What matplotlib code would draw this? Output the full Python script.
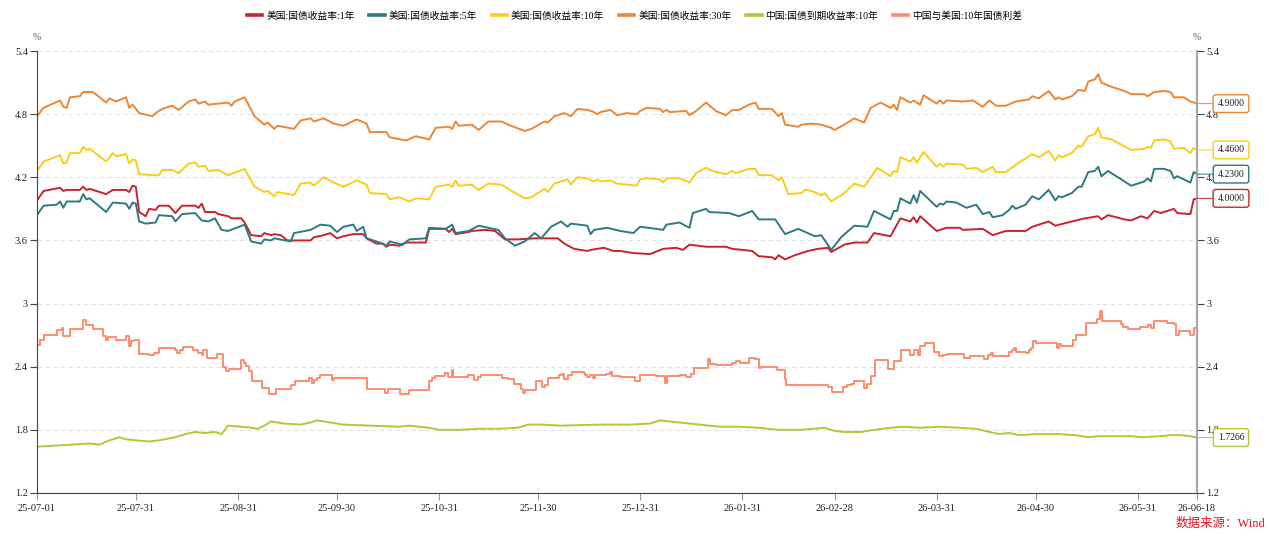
import numpy as np
import pandas as pd
import matplotlib
matplotlib.use('Agg')
import matplotlib.pyplot as plt
from matplotlib.lines import Line2D

plt.rcParams['font.family'] = ['Liberation Serif', 'Noto Sans CJK SC']

# x = calendar days after 2025-07-01, y = yield in %
start = pd.Timestamp('2025-07-01')

us1 = [(0,3.98),(2,4.07),(7,4.10),(8,4.07),(9,4.08),(13,4.08),(14,4.11),(15,4.08),(16,4.09),(21,4.04),(23,4.08),(27,4.08),
       (28,4.06),(29,4.12),(30,4.11),(31,3.87),(33,3.83),(34,3.90),(36,3.89),(37,3.93),(40,3.93),(42,3.86),(44,3.93),(48,3.93),
       (49,3.91),(50,3.95),(51,3.87),(54,3.87),(55,3.85),(58,3.83),(59,3.81),(62,3.81),(63,3.77),(65,3.65),(68,3.64),(69,3.67),
       (71,3.65),(72,3.66),(74,3.65),(76,3.60),(80,3.60),(83,3.60),(84,3.63),(87,3.65),(89,3.67),(91,3.62),(93,3.64),(96,3.66),
       (99,3.66),(100,3.62),(103,3.57),(105,3.57),(106,3.54),(107,3.56),(110,3.55),(112,3.58),(118,3.58),(119,3.71),(124,3.71),
       (125,3.68),(126,3.71),(127,3.66),(131,3.68),(132,3.69),(136,3.70),(139,3.69),(142,3.61),(146,3.61),(151,3.62),(158,3.62),
       (160,3.57),(163,3.52),(167,3.50),(168,3.51),(172,3.53),(175,3.50),(177,3.50),(181,3.48),(186,3.47),(190,3.52),(194,3.53),
       (196,3.51),(198,3.56),(203,3.54),(209,3.54),(211,3.52),(217,3.50),(219,3.45),(223,3.44),(224,3.42),(225,3.46),(227,3.42),
       (230,3.46),(234,3.50),(237,3.52),(240,3.53),(241,3.49),(245,3.56),(248,3.58),(252,3.58),(254,3.67),(259,3.64),(262,3.81),
       (265,3.78),(266,3.82),(267,3.77),(268,3.83),(273,3.69),(276,3.72),(280,3.72),(281,3.70),(287,3.71),(290,3.65),(294,3.69),
       (300,3.69),(302,3.73),(307,3.78),(309,3.74),(314,3.78),(318,3.81),(322,3.83),(323,3.80),(325,3.84),(330,3.80),(332,3.79),
       (335,3.83),(337,3.81),(339,3.88),(341,3.86),(345,3.90),(346,3.86),(350,3.85),(351,3.99),(352,4.00)]

us5 = [(0,3.84),(2,3.93),(6,3.94),(7,3.97),(8,3.91),(9,3.97),(13,3.97),(14,4.04),(15,3.99),(16,4.00),(21,3.87),(23,3.96),
       (27,3.95),(28,3.90),(29,3.96),(30,3.95),(31,3.78),(33,3.76),(36,3.77),(37,3.84),(41,3.83),(42,3.78),(44,3.85),(48,3.86),
       (50,3.79),(52,3.78),(54,3.81),(56,3.70),(58,3.69),(63,3.75),(65,3.59),(68,3.57),(69,3.61),(71,3.60),(72,3.62),(77,3.59),
       (78,3.67),(83,3.70),(86,3.75),(89,3.74),(91,3.68),(93,3.73),(96,3.75),(97,3.69),(99,3.73),(100,3.62),(104,3.58),(106,3.55),
       (107,3.59),(111,3.56),(113,3.61),(118,3.62),(119,3.72),(124,3.71),(126,3.75),(127,3.67),(131,3.69),(134,3.74),(140,3.70),
       (142,3.62),(145,3.55),(148,3.59),(151,3.67),(153,3.62),(156,3.73),(159,3.78),(161,3.73),(162,3.76),(167,3.74),(168,3.66),
       (169,3.70),(173,3.72),(177,3.69),(181,3.67),(183,3.73),(188,3.71),(190,3.70),(191,3.75),(195,3.77),(198,3.72),(199,3.86),
       (203,3.90),(204,3.87),(210,3.86),(213,3.83),(217,3.88),(219,3.80),(224,3.80),(227,3.66),(231,3.71),(236,3.64),(238,3.65),
       (241,3.51),(244,3.63),(248,3.74),(252,3.73),(254,3.88),(259,3.80),(260,3.88),(261,3.88),(262,4.00),(265,3.95),(266,4.03),
       (267,3.96),(268,4.07),(273,3.92),(274,3.95),(275,3.94),(276,3.97),(279,3.96),(282,3.91),(285,3.94),(287,3.85),(289,3.87),
       (290,3.82),(293,3.84),(295,3.89),(296,3.93),(297,3.90),(300,3.94),(302,4.02),(304,3.99),(307,4.08),(309,3.98),(310,4.02),
       (311,4.01),(314,4.05),(316,4.11),(317,4.11),(319,4.25),(321,4.26),(322,4.30),(323,4.21),(325,4.26),(332,4.12),(336,4.16),
       (337,4.19),(338,4.16),(339,4.28),(342,4.28),(344,4.26),(345,4.19),(346,4.21),(350,4.15),(351,4.25),(352,4.23)]

us10 = [(0,4.26),(2,4.35),(7,4.41),(8,4.33),(9,4.34),(10,4.43),(13,4.43),(14,4.49),(15,4.46),(16,4.47),(21,4.35),(23,4.43),
        (24,4.40),(27,4.42),(28,4.33),(29,4.37),(30,4.36),(31,4.23),(35,4.22),(37,4.22),(38,4.27),(41,4.27),(43,4.24),(46,4.33),
        (48,4.34),(49,4.30),(51,4.31),(52,4.26),(55,4.27),(58,4.22),(63,4.28),(66,4.11),(69,4.06),(70,4.07),(72,4.02),(73,4.06),
        (78,4.03),(80,4.14),(83,4.15),(84,4.12),(87,4.20),(90,4.15),(93,4.11),(97,4.17),(100,4.13),(101,4.05),(106,4.04),(107,3.99),
        (110,4.01),(113,3.97),(115,4.00),(119,3.99),(121,4.11),(125,4.13),(126,4.11),(127,4.17),(128,4.12),(132,4.13),(134,4.08),
        (137,4.14),(141,4.13),(144,4.07),(148,4.00),(150,4.01),(154,4.09),(155,4.06),(157,4.14),(161,4.18),(162,4.13),(164,4.20),
        (167,4.19),(169,4.16),(170,4.18),(171,4.16),(174,4.17),(176,4.14),(182,4.12),(183,4.18),(185,4.19),(189,4.18),(190,4.15),
        (191,4.19),(195,4.19),(198,4.15),(200,4.24),(203,4.29),(205,4.26),(209,4.23),(211,4.26),(212,4.24),(216,4.28),(218,4.28),
        (219,4.22),(223,4.22),(225,4.17),(226,4.20),(228,4.04),(232,4.05),(233,4.08),(235,4.07),(238,4.03),(239,4.05),(241,3.97),
        (245,4.05),(248,4.14),(251,4.11),(255,4.29),(259,4.21),(260,4.26),(261,4.25),(262,4.39),(265,4.35),(266,4.39),(267,4.34),
        (269,4.44),(273,4.30),(274,4.33),(275,4.30),(276,4.33),(281,4.32),(282,4.28),(285,4.29),(287,4.25),(290,4.30),(291,4.25),
        (294,4.25),(297,4.32),(302,4.42),(304,4.39),(307,4.45),(309,4.36),(310,4.41),(311,4.39),(314,4.43),(316,4.50),(317,4.49),
        (319,4.59),(321,4.61),(322,4.67),(323,4.58),(326,4.56),(332,4.46),(336,4.47),(337,4.49),(338,4.48),(339,4.55),(342,4.56),
        (344,4.54),(345,4.47),(348,4.48),(350,4.43),(351,4.48),(352,4.46)]

us30 = [(0,4.78),(2,4.86),(7,4.93),(8,4.87),(9,4.86),(10,4.96),(13,4.97),(14,5.01),(17,5.01),(21,4.91),(22,4.95),(24,4.92),
        (27,4.96),(28,4.86),(29,4.89),(31,4.81),(35,4.78),(36,4.81),(38,4.85),(41,4.88),(43,4.84),(46,4.92),(48,4.94),(49,4.90),
        (51,4.92),(52,4.89),(58,4.91),(59,4.88),(60,4.92),(63,4.96),(66,4.78),(69,4.70),(70,4.72),(72,4.66),(73,4.69),(78,4.66),
        (80,4.74),(83,4.76),(84,4.73),(87,4.76),(90,4.71),(93,4.69),(97,4.75),(100,4.71),(101,4.63),(106,4.63),(107,4.58),
        (112,4.55),(115,4.59),(119,4.56),(121,4.67),(125,4.68),(126,4.66),(127,4.73),(128,4.69),(132,4.70),(134,4.65),(137,4.73),
        (141,4.73),(143,4.70),(148,4.64),(150,4.66),(154,4.73),(155,4.72),(157,4.78),(160,4.81),(162,4.78),(164,4.85),(167,4.84),
        (169,4.82),(170,4.80),(171,4.82),(174,4.84),(176,4.79),(179,4.81),(182,4.80),(183,4.83),(185,4.86),(189,4.85),(190,4.82),
        (191,4.84),(192,4.82),(197,4.83),(198,4.79),(200,4.83),(203,4.91),(206,4.83),(209,4.79),(211,4.84),(213,4.84),(216,4.89),
        (218,4.91),(219,4.85),(223,4.85),(225,4.78),(226,4.81),(227,4.70),(231,4.68),(232,4.70),(235,4.71),(238,4.70),(241,4.67),
        (242,4.65),(245,4.70),(248,4.76),(251,4.72),(253,4.86),(256,4.91),(259,4.86),(260,4.89),(261,4.84),(262,4.96),(265,4.91),
        (266,4.93),(268,4.89),(269,4.98),(273,4.90),(274,4.93),(275,4.90),(276,4.93),(281,4.92),(284,4.93),(287,4.87),(289,4.93),
        (291,4.88),(294,4.88),(297,4.92),(301,4.94),(302,4.97),(304,4.95),(307,5.02),(309,4.94),(310,4.96),(311,4.94),(314,4.97),
        (316,5.03),(318,5.02),(319,5.11),(321,5.13),(322,5.18),(323,5.10),(326,5.06),(330,5.02),(332,4.99),(336,4.99),(337,4.97),
        (338,4.99),(339,5.01),(342,5.02),(344,5.01),(345,4.96),(348,4.96),(350,4.92),(352,4.90)]

cn10 = [(0,1.64),(16,1.67),(19,1.66),(22,1.70),(25,1.73),(27,1.71),(30,1.70),(34,1.69),(37,1.70),(42,1.73),(45,1.76),(48,1.78),
        (51,1.77),(54,1.78),(56,1.76),(58,1.84),(62,1.83),(65,1.82),(67,1.81),(69,1.84),(71,1.88),(75,1.86),(80,1.85),(83,1.87),
        (85,1.89),(89,1.87),(93,1.85),(101,1.84),(110,1.83),(113,1.84),(119,1.82),(122,1.80),(128,1.80),(134,1.81),(140,1.81),
        (146,1.82),(149,1.85),(153,1.85),(159,1.84),(171,1.85),(180,1.85),(186,1.86),(189,1.89),(195,1.87),(201,1.85),(207,1.83),
        (213,1.83),(219,1.82),(225,1.80),(231,1.80),(236,1.81),(239,1.82),(242,1.79),(245,1.78),(250,1.78),(254,1.80),(259,1.82),
        (263,1.83),(268,1.82),(274,1.83),(280,1.82),(285,1.81),(289,1.78),(292,1.76),(295,1.77),(298,1.75),(303,1.76),(310,1.76),
        (315,1.75),(319,1.73),(322,1.74),(332,1.74),(335,1.73),(341,1.74),(344,1.75),(347,1.75),(350,1.74),(352,1.7266)]

spread = [(0,2.61),(1,2.65),(2,2.70),(6,2.75),(7.6,2.77),(8,2.69),(10,2.76),(14,2.84),(15,2.80),(17,2.76),(20,2.69),(21,2.65),
          (21.5,2.68),(24,2.65),(27,2.69),(28,2.60),(28.5,2.64),(29.5,2.65),(31,2.52),(34,2.51),(35.5,2.53),(37,2.58),(42,2.56),
          (42.6,2.53),(43.4,2.56),(44.3,2.59),(47.3,2.56),(49,2.53),(50,2.51),(50.4,2.56),(51.6,2.48),(54.6,2.52),(56.4,2.40),
          (57.5,2.36),(58.2,2.38),(62,2.46),(62.8,2.44),(63.4,2.41),(64.3,2.36),(65.2,2.26),(68.4,2.20),(70.4,2.14),(72.4,2.19),
          (77.2,2.23),(78.2,2.26),(82.5,2.29),(83.3,2.25),(84,2.27),(85,2.29),(85.9,2.32),(89.4,2.27),(90.1,2.29),(100,2.19),
          (105.6,2.15),(106.5,2.19),(110,2.14),(113,2.18),(119,2.26),(120,2.29),(120.8,2.31),(123.8,2.34),(124.7,2.30),(125.8,2.37),
          (126.2,2.30),(130.7,2.32),(132.6,2.27),(133.8,2.30),(134.6,2.32),(141,2.29),(143,2.28),(144.7,2.24),(146.8,2.19),
          (147.5,2.15),(148,2.18),(151.5,2.26),(153.2,2.21),(154,2.23),(155,2.29),(158.4,2.32),(159.3,2.33),(160,2.28),(161,2.32),
          (162.4,2.35),(166,2.34),(166.2,2.32),(167,2.30),(167.8,2.32),(168.7,2.29),(169.3,2.32),(172.8,2.33),(173.8,2.35),
          (174.5,2.31),(176.9,2.30),(181.4,2.26),(183.1,2.32),(187.8,2.31),(190.5,2.25),(191.2,2.31),(195,2.32),(197,2.30),
          (198.4,2.33),(199.3,2.39),(203.6,2.47),(204.3,2.43),(206,2.42),(211,2.44),(212,2.45),(213.3,2.44),(216.2,2.48),(218,2.47),
          (219,2.39),(219.7,2.40),(224.7,2.37),(227,2.28),(227.3,2.23),(240,2.21),(241.2,2.16),(244.6,2.21),(245.7,2.23),(247,2.24),
          (248,2.26),(251,2.20),(252,2.24),(253.2,2.31),(254.2,2.46),(258.3,2.38),(260,2.45),(262.3,2.56),(265,2.51),(266,2.56),
          (267.3,2.51),(267.9,2.60),(269.4,2.63),(272.3,2.54),(273.7,2.50),(275,2.51),(276,2.52),(281.4,2.48),(283,2.50),(287.3,2.47),
          (288.5,2.51),(289.4,2.53),(290.2,2.50),(294.8,2.54),(295.8,2.56),(296.4,2.58),(297,2.54),(300,2.53),(301,2.56),(301.6,2.58),
          (302.2,2.64),(303,2.63),(309,2.63),(309.4,2.58),(310,2.62),(310.6,2.60),(314,2.60),(314.5,2.65),(315.2,2.70),(318.3,2.82),
          (321.8,2.85),(322.7,2.93),(323.1,2.83),(328.8,2.81),(329.4,2.78),(331.2,2.76),(334.8,2.78),(337,2.80),(338,2.77),(339,2.83),
          (343,2.82),(345,2.81),(345.5,2.70),(346.5,2.74),(350,2.70),(351,2.77),(352,2.76)]

names = ['美国:国债收益率:1年', '美国:国债收益率:5年', '美国:国债收益率:10年', '美国:国债收益率:30年',
         '中国:国债到期收益率:10年', '中国与美国:10年国债利差']
colors = ['#c8232f', '#2e7a82', '#f9cd1c', '#ee8633', '#b4c73b', '#fd8c6f']
data = [us1, us5, us10, us30, cn10, spread]
end_label = [True, True, True, True, True, False]

y_ticks = [1.2, 1.8, 2.4, 3.0, 3.6, 4.2, 4.8, 5.4]
y_labels = ['1.2', '1.8', '2.4', '3', '3.6', '4.2', '4.8', '5.4']
x_ticks = ['2025-07-01', '2025-07-31', '2025-08-31', '2025-09-30', '2025-10-31', '2025-11-30', '2025-12-31',
           '2026-01-31', '2026-02-28', '2026-03-31', '2026-04-30', '2026-05-31', '2026-06-18']


def to_xy(pts):
  d = np.array([p[0] for p in pts], float)
  v = np.array([p[1] for p in pts], float)
  return start + pd.to_timedelta(d, unit='D'), v


W, H = 1269, 541
fig = plt.figure(figsize=(W/100, H/100), dpi=100)
ax = fig.add_axes([37/W, 48/H, 1160/W, 442/H])

handles = []
for pts, c, name, ds in zip(data, colors, names, ['default']*5 + ['steps-post']):
  x, y = to_xy(pts)
  ax.plot(x, y, color=c, lw=1.4, drawstyle=ds, solid_joinstyle='round')
  handles.append(Line2D([], [], color=c, lw=2.6))

ax.set_xlim(pd.Timestamp(x_ticks[0]), pd.Timestamp(x_ticks[-1]))
ax.set_ylim(1.2, 5.4)
ax.set_yticks(y_ticks)
ax.set_yticklabels(y_labels)
ax.set_xticks([pd.Timestamp(t) for t in x_ticks])
ax.set_xticklabels([pd.Timestamp(t).strftime('%y-%m-%d') for t in x_ticks])

ax.yaxis.grid(True, color='#e2e2e2', linestyle=(0, (4, 3)), lw=0.8)
ax.set_axisbelow(True)
ax.spines['top'].set_visible(False)
ax.spines['left'].set_color('#444444')
ax.spines['bottom'].set_color('#444444')
ax.spines['right'].set_color('#a8a8a8')
ax.spines['right'].set_linewidth(1.6)
ax.tick_params(axis='y', left=True, right=True, labelleft=True, labelright=True, length=5, width=0.8,
               color='#444444', labelsize=7.5, pad=1.5, labelcolor='#222222')
ax.tick_params(axis='x', length=5, width=0.8, color='#999999', labelsize=7.5, pad=3, labelcolor='#222222')

fig.text(37/W, 1 - 37/H, '%', ha='center', va='center', fontsize=7, color='#555555')
fig.text(1197/W, 1 - 37/H, '%', ha='center', va='center', fontsize=7, color='#555555')

# value boxes at the right end
for pts, c, show in zip(data, colors, end_label):
  if not show:
    continue
  x, y = to_xy(pts)
  ax.annotate('%.4f' % y[-1], xy=(x[-1], y[-1]), xytext=(34, 0), textcoords='offset pixels',
              ha='center', va='center', fontsize=7, color='#222222', annotation_clip=False, zorder=10,
              bbox=dict(boxstyle='round,pad=0.45,rounding_size=0.25', fc='white', ec=c, lw=1.0),
              arrowprops=dict(arrowstyle='-', color=c, lw=0.7, shrinkA=0, shrinkB=0))

fig.legend(handles, names, loc='center', bbox_to_anchor=(0.5, 1 - 16/H), ncol=6, frameon=False,
           fontsize=7, handlelength=1.6, handletextpad=0.4, columnspacing=1.5)

fig.text(1265/W, 1 - 524/H, '数据来源：Wind', ha='right', va='center', fontsize=9, color='#e3141c')

fig.savefig('out.png', dpi=100)
